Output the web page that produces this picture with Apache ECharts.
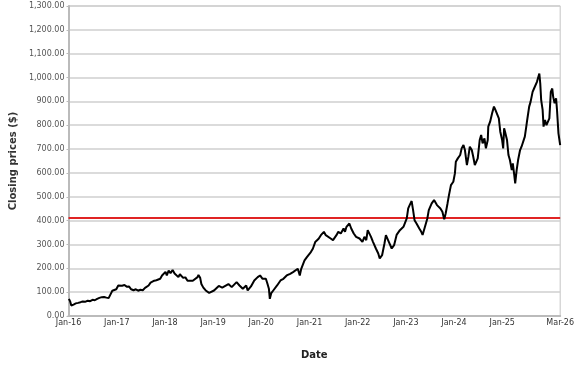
<!DOCTYPE html>
<html>
<head>
<meta charset="utf-8">
<script src="https://cdn.jsdelivr.net/npm/echarts@6/dist/echarts.min.js"></script>
<style>
html,body{margin:0;padding:0;background:#fff;}
#chart{width:577px;height:367px;}
</style>
</head>
<body>
<div id="chart"></div>
<script>
const dates = [
'2016-01-04','2016-01-14','2016-01-22','2016-02-08','2016-02-25','2016-03-14','2016-04-01','2016-04-18','2016-05-09','2016-05-26',
'2016-06-13','2016-07-01','2016-07-18','2016-08-05','2016-08-22','2016-09-09','2016-09-26','2016-10-14','2016-10-31','2016-11-08',
'2016-11-18','2016-11-28','2016-12-12','2016-12-28','2017-01-12','2017-01-26','2017-02-10','2017-02-28','2017-03-17','2017-04-03',
'2017-04-20','2017-05-08','2017-05-25','2017-06-12','2017-06-29','2017-07-17','2017-08-03','2017-08-14','2017-08-30','2017-09-14',
'2017-09-28','2017-10-12','2017-10-28','2017-11-26','2017-12-10','2017-12-24','2018-01-05','2018-01-15','2018-01-29','2018-02-12',
'2018-02-28','2018-03-15','2018-03-22','2018-04-13','2018-04-24','2018-05-19','2018-06-05','2018-06-21','2018-07-05','2018-07-31',
'2018-08-11','2018-09-05','2018-09-12','2018-09-25','2018-10-04','2018-10-19','2018-11-06','2018-12-02','2018-12-13','2019-01-08',
'2019-02-13','2019-03-11','2019-03-22','2019-04-27','2019-05-22','2019-06-28','2019-07-20','2019-08-14','2019-09-09','2019-09-20',
'2019-10-15','2019-11-09','2019-12-05','2019-12-23','2020-01-11','2020-01-22','2020-02-05','2020-02-17','2020-02-28','2020-03-06',
'2020-03-17','2020-04-01','2020-04-16','2020-04-30','2020-05-26','2020-06-17','2020-07-01','2020-07-12','2020-08-07','2020-08-29',
'2020-09-12','2020-10-04','2020-10-19','2020-10-30','2020-11-24','2020-12-12','2020-12-27','2021-01-11','2021-01-26','2021-02-13',
'2021-03-11','2021-03-28','2021-04-20','2021-05-04','2021-05-19','2021-06-10','2021-06-28','2021-07-24','2021-08-07','2021-08-26',
'2021-09-16','2021-09-27','2021-10-08','2021-10-30','2021-11-13','2021-12-02','2021-12-20','2022-01-15','2022-02-06','2022-02-21',
'2022-03-07','2022-03-18','2022-04-12','2022-04-27','2022-05-19','2022-06-06','2022-06-17','2022-07-05','2022-07-23','2022-08-03',
'2022-08-25','2022-09-16','2022-10-04','2022-10-23','2022-11-17','2022-12-02','2022-12-14','2023-01-08','2023-01-19','2023-01-30',
'2023-02-14','2023-02-25','2023-03-08','2023-03-23','2023-04-02','2023-04-13','2023-04-28','2023-05-08','2023-05-26','2023-06-13',
'2023-06-24','2023-07-16','2023-08-03','2023-08-14','2023-08-25','2023-09-05','2023-09-20','2023-10-05','2023-10-19','2023-10-30',
'2023-11-13','2023-11-24','2023-12-09','2023-12-27','2024-01-08','2024-01-15','2024-01-30','2024-02-17','2024-02-28','2024-03-13',
'2024-03-24','2024-04-08','2024-04-19','2024-04-30','2024-05-15','2024-05-26','2024-06-07','2024-06-18','2024-06-29','2024-07-14',
'2024-07-25','2024-08-05','2024-08-19','2024-08-30','2024-09-13','2024-09-17','2024-10-01','2024-10-08','2024-10-16','2024-10-30',
'2024-11-10','2024-11-25','2024-12-06','2024-12-17','2024-12-31','2025-01-08','2025-01-15','2025-01-22','2025-02-06','2025-02-17',
'2025-02-28','2025-03-14','2025-03-22','2025-04-02','2025-04-09','2025-04-20','2025-05-01','2025-05-16','2025-05-27','2025-06-07',
'2025-06-21','2025-07-02','2025-07-09','2025-07-24','2025-08-04','2025-08-19','2025-08-30','2025-09-10','2025-09-21','2025-09-28',
'2025-10-09','2025-10-16','2025-10-23','2025-11-03','2025-11-10','2025-11-21','2025-12-02','2025-12-16','2025-12-24','2026-01-04',
'2026-01-15','2026-01-22','2026-02-02','2026-02-13','2026-02-20','2026-03-03','2026-03-16'
];
const closes = [
72,60,44,48,53,55,58,61,60,64,
62,68,66,72,76,79,80,77,75,74,
95,106,110,112,128,134,127,130,123,124,
112,108,112,106,110,108,118,112,128,140,
145,148,150,156,170,178,185,170,190,180,
193,178,185,163,175,160,162,148,156,148,
156,163,172,160,134,119,107,97,93,107,
126,119,112,134,121,142,128,114,128,107,
124,149,163,170,156,149,156,135,114,72,
96,107,114,128,149,156,149,170,177,184,
177,198,170,198,233,247,240,268,282,310,
324,339,353,339,346,325,318,339,353,346,
367,353,374,388,367,346,332,325,311,332,
318,360,332,311,283,262,241,255,304,339,
311,283,297,340,360,365,374,409,451,465,
482,444,402,388,395,367,353,340,374,409,
444,472,486,493,465,472,451,437,406,430,
472,507,549,563,598,647,661,675,703,717,
696,633,668,710,696,668,633,626,661,738,
759,724,745,703,738,794,815,808,850,878,
864,871,829,773,738,703,787,773,738,675,
654,612,640,591,556,612,654,696,710,703,
752,794,822,878,899,940,954,961,982,996,
1017,975,905,864,794,822,800,794,829,940,
954,919,892,913,864,766,717
];
const referenceLevel = 412;
const xLabelDates = ['2016-01-01','2017-01-01','2018-01-01','2019-01-01','2020-01-01','2021-01-01','2022-01-01','2023-01-01','2024-01-01','2025-01-01','2026-03-16'];
const xMin = '2016-01-01';
const xMax = '2026-03-16';

const months = ['Jan','Feb','Mar','Apr','May','Jun','Jul','Aug','Sep','Oct','Nov','Dec'];
function fmtDate(v){
  const d = new Date(v);
  return months[d.getUTCMonth()] + '-' + String(d.getUTCFullYear()).slice(2);
}
const toTs = s => Date.parse(s + 'T00:00:00Z');

const chart = echarts.init(document.getElementById('chart'), null, {renderer:'canvas'});
chart.setOption({
  animation:false,
  backgroundColor:'#fff',
  textStyle:{fontFamily:'DejaVu Sans'},
  grid:{left:57,right:14,top:6,bottom:51,show:true,borderColor:'#c4c4c4',borderWidth:1,containLabel:false},
  xAxis:{
    type:'value',
    min:toTs(xMin),
    max:toTs(xMax),
    name:'Date',
    nameLocation:'middle',
    nameGap:34,
    nameTextStyle:{fontFamily:'DejaVu Sans',fontWeight:'bold',fontSize:10,color:'#222'},
    axisLine:{show:true,lineStyle:{color:'#bbb',width:2}},
    axisTick:{show:false},
    splitLine:{show:false},
    axisLabel:{
      customValues: xLabelDates.map(toTs),
      formatter: v => fmtDate(v),
      fontSize:8,color:'#333',margin:3,
      showMinLabel:true,showMaxLabel:true
    }
  },
  yAxis:{
    type:'value',
    min:0,max:1300,interval:100,
    name:'Closing prices ($)',
    nameLocation:'middle',
    nameGap:40,
    nameTextStyle:{fontFamily:'DejaVu Sans',fontWeight:'bold',fontSize:10,color:'#333'},
    axisLine:{show:true,lineStyle:{color:'#bbb',width:2}},
    axisTick:{show:true,length:2,lineStyle:{color:'#bbb'}},
    splitLine:{show:true,lineStyle:{color:'#cfcfcf',width:1.5}},
    axisLabel:{
      fontSize:8,color:'#555',margin:4,
      formatter: v => v.toLocaleString('en-US',{minimumFractionDigits:2,maximumFractionDigits:2})
    }
  },
  series:[{
    type:'line',
    data: dates.map((d,i)=>[toTs(d), closes[i]]),
    showSymbol:false,
    lineStyle:{color:'#000',width:2},
    z:3,
    markLine:{
      silent:true,
      symbol:['none','none'],
      label:{show:false},
      lineStyle:{color:'#e02424',type:'solid',width:2},
      data:[{yAxis:referenceLevel}],
      z:2
    }
  }]
});
</script>
</body>
</html>
